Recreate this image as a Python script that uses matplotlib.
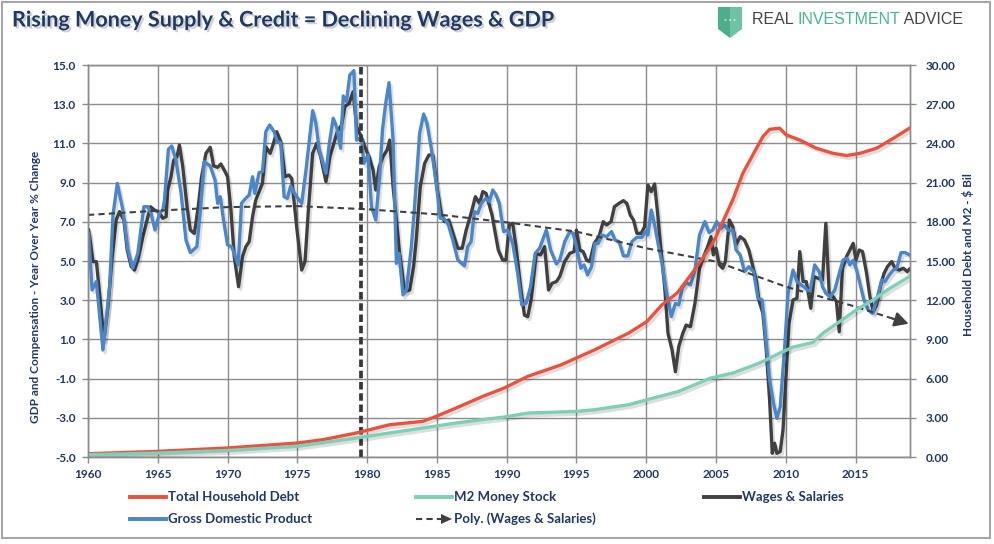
import matplotlib
matplotlib.use("Agg")
import matplotlib.pyplot as plt
import matplotlib.patheffects as pe
from matplotlib.patches import Polygon, Rectangle, Circle
from matplotlib.lines import Line2D

# ---- data ----
year_ticks = [1960, 1965, 1970, 1975, 1980, 1985, 1990, 1995, 2000, 2005, 2010, 2015]
left_ticks = [-5, -3, -1, 1, 3, 5, 7, 9, 11, 13, 15]
right_ticks = [0, 3, 6, 9, 12, 15, 18, 21, 24, 27, 30]

wages_x = [
    1960.05, 1960.36, 1960.6, 1960.83, 1961.14, 1961.43, 1961.71, 1962.02, 1962.26, 1962.57, 1962.81,
    1963.1, 1963.33, 1963.57, 1963.93, 1964.24, 1964.48, 1964.76, 1965.05, 1965.36, 1965.6, 1965.71,
    1965.95, 1966.14, 1966.38, 1966.55, 1966.79, 1967.1, 1967.33, 1967.62, 1967.9, 1968.14, 1968.45,
    1968.76, 1969.0, 1969.29, 1969.52, 1969.76, 1970.0, 1970.24, 1970.48, 1970.79, 1971.07, 1971.31,
    1971.55, 1971.79, 1972.02, 1972.26, 1972.5, 1972.74, 1973.05, 1973.29, 1973.52, 1973.81, 1974.12,
    1974.4, 1974.6, 1974.95, 1975.31, 1975.55, 1975.79, 1976.1, 1976.38, 1976.67, 1977.05, 1977.33,
    1977.62, 1977.86, 1978.17, 1978.4, 1978.71, 1979.0, 1979.24, 1979.52, 1979.83, 1980.14, 1980.43,
    1980.62, 1980.86, 1981.14, 1981.43, 1981.62, 1981.86, 1982.1, 1982.33, 1982.69, 1983.05, 1983.33,
    1983.52, 1983.81, 1984.12, 1984.43, 1984.71, 1985.0, 1985.31, 1985.55, 1985.86, 1986.19, 1986.5,
    1986.81, 1987.1, 1987.45, 1987.76, 1988.05, 1988.29, 1988.52, 1988.95, 1989.4, 1989.71, 1989.95,
    1990.19, 1990.43, 1990.67, 1990.99, 1991.27, 1991.51, 1991.75, 1992.12, 1992.43, 1992.72, 1993.0,
    1993.25, 1993.56, 1993.8, 1994.16, 1994.52, 1994.83, 1995.0, 1995.24, 1995.48, 1995.72, 1995.96,
    1996.27, 1996.61, 1996.92, 1997.16, 1997.48, 1997.72, 1998.05, 1998.37, 1998.61, 1998.85, 1999.09,
    1999.33, 1999.64, 1999.88, 2000.12, 2000.36, 2000.6, 2000.84, 2001.08, 2001.32, 2001.56, 2001.85,
    2002.09, 2002.33, 2002.62, 2002.86, 2003.17, 2003.49, 2003.65, 2003.82, 2004.16, 2004.4, 2004.64,
    2004.81, 2005.0, 2005.24, 2005.48, 2005.67, 2005.96, 2006.2, 2006.44, 2006.73, 2007.04, 2007.35,
    2007.64, 2007.88, 2008.07, 2008.36, 2008.6, 2008.84, 2009.03, 2009.2, 2009.36, 2009.6, 2009.8,
    2009.99, 2010.23, 2010.52, 2010.8, 2011.0, 2011.24, 2011.47, 2011.79, 2012.03, 2012.31, 2012.63,
    2012.87, 2013.11, 2013.39, 2013.63, 2013.83, 2014.06, 2014.35, 2014.59, 2014.83, 2015.02, 2015.26,
    2015.5, 2015.79, 2016.03, 2016.27, 2016.51, 2016.8, 2017.04, 2017.28, 2017.59, 2017.83, 2018.14,
    2018.42, 2018.71, 2018.86]
wages_y = [
    6.58, 4.97, 4.97, 3.35, 0.97, 2.67, 5.05, 7.09, 7.52, 7.09, 5.56,
    4.71, 4.54, 5.05, 6.24, 7.09, 7.77, 7.6, 7.52, 7.18, 7.26, 8.62,
    9.3, 10.15, 10.32, 10.92, 9.81, 7.77, 6.58, 6.41, 7.77, 9.3, 10.49,
    10.8, 9.85, 9.78, 9.95, 9.64, 9.3, 7.6, 5.22, 3.69, 5.22, 5.73,
    5.99, 7.26, 8.11, 8.54, 8.96, 10.83, 10.49, 11.0, 11.6, 11.09, 9.3,
    9.39, 9.2, 6.75, 4.54, 4.97, 7.6, 10.49, 11.0, 10.32, 9.05, 10.32,
    11.0, 11.6, 11.94, 12.87, 13.04, 13.64, 11.85, 11.43, 10.83, 10.32, 9.64,
    8.62, 9.81, 10.32, 10.66, 11.17, 8.79, 7.09, 5.39, 3.44, 3.52, 4.71,
    6.07, 8.79, 9.98, 10.41, 10.41, 8.79, 7.43, 7.01, 7.09, 6.33, 5.65,
    5.65, 6.58, 7.43, 8.28, 7.94, 8.54, 8.45, 7.35, 5.56, 5.05, 5.05,
    6.84, 6.92, 5.73, 3.69, 2.24, 2.16, 3.01, 5.39, 5.31, 5.73, 3.52,
    3.86, 3.95, 4.2, 4.97, 5.39, 5.48, 6.58, 5.56, 5.48, 5.05, 4.97,
    5.9, 6.24, 7.01, 6.84, 7.01, 7.77, 7.94, 8.08, 7.94, 7.35, 7.09,
    6.41, 6.41, 6.75, 8.88, 8.54, 8.93, 7.26, 5.39, 3.69, 1.31, 0.46,
    -0.65, 0.63, 1.31, 1.73, 1.65, 2.84, 3.69, 4.63, 5.31, 5.73, 6.24,
    5.31, 5.65, 4.8, 4.63, 4.97, 7.09, 6.75, 5.82, 6.24, 6.07, 5.56,
    4.71, 4.03, 3.01, 2.33, 0.46, -2.09, -4.81, -4.3, -4.81, -4.72, -3.62,
    -1.24, 1.82, 3.01, 3.1, 5.48, 3.95, 3.95, 2.59, 4.2, 4.12, 4.03,
    6.92, 3.35, 3.18, 2.93, 1.39, 4.63, 5.22, 5.56, 5.9, 5.05, 5.56,
    5.48, 4.37, 3.18, 2.41, 2.76, 3.78, 4.37, 4.71, 4.97, 4.63, 4.54,
    4.63, 4.46, 4.58]

gdp_x = [
    1960.05, 1960.29, 1960.6, 1961.07, 1961.55, 1961.79, 1962.1, 1962.5, 1962.86, 1963.2, 1963.57,
    1964.0, 1964.29, 1964.52, 1964.8, 1965.12, 1965.36, 1965.48, 1965.76, 1966.0, 1966.3, 1966.67,
    1967.02, 1967.33, 1967.8, 1968.05, 1968.33, 1968.76, 1969.1, 1969.29, 1969.48, 1969.71, 1970.0,
    1970.29, 1970.52, 1970.76, 1971.0, 1971.24, 1971.55, 1971.79, 1971.95, 1972.26, 1972.5, 1972.74,
    1973.02, 1973.33, 1973.57, 1973.81, 1974.05, 1974.29, 1974.52, 1974.83, 1975.31, 1975.62, 1976.1,
    1976.33, 1976.57, 1977.05, 1977.29, 1977.57, 1977.81, 1978.1, 1978.29, 1978.52, 1978.76, 1979.05,
    1979.24, 1979.6, 1979.76, 1980.07, 1980.31, 1980.62, 1980.9, 1981.1, 1981.33, 1981.57, 1981.86,
    1982.1, 1982.29, 1982.57, 1982.81, 1983.17, 1983.4, 1983.76, 1984.05, 1984.29, 1984.6, 1984.95,
    1985.24, 1985.48, 1985.79, 1986.14, 1986.5, 1986.98, 1987.21, 1987.45, 1987.69, 1987.93, 1988.17,
    1988.52, 1988.76, 1989.0, 1989.24, 1989.47, 1989.78, 1990.07, 1990.43, 1990.79, 1991.08, 1991.39,
    1991.71, 1992.04, 1992.36, 1992.84, 1993.15, 1993.56, 1993.8, 1994.16, 1994.52, 1994.76, 1995.0,
    1995.31, 1995.55, 1995.79, 1996.08, 1996.32, 1996.56, 1996.8, 1997.16, 1997.52, 1997.76, 1998.05,
    1998.37, 1998.68, 1998.97, 1999.33, 1999.69, 1999.93, 2000.12, 2000.36, 2000.6, 2000.89, 2001.13,
    2001.42, 2001.8, 2002.09, 2002.33, 2002.57, 2002.86, 2003.17, 2003.49, 2003.82, 2004.2, 2004.5,
    2004.76, 2005.05, 2005.36, 2005.6, 2005.91, 2006.2, 2006.44, 2006.73, 2007.04, 2007.35, 2007.69,
    2008.0, 2008.31, 2008.6, 2008.84, 2009.12, 2009.36, 2009.6, 2009.92, 2010.16, 2010.52, 2010.8,
    2011.12, 2011.43, 2011.71, 2012.07, 2012.39, 2012.63, 2012.87, 2013.2, 2013.51, 2013.83, 2014.11,
    2014.4, 2014.59, 2014.83, 2015.07, 2015.31, 2015.6, 2015.91, 2016.22, 2016.51, 2016.87, 2017.11,
    2017.42, 2017.71, 2017.95, 2018.26, 2018.55, 2018.86]
gdp_y = [
    6.41, 3.52, 3.95, 0.46, 3.69, 7.35, 8.96, 7.6, 5.56, 4.63, 5.39,
    7.77, 7.77, 7.43, 6.58, 7.43, 7.6, 8.1, 10.7, 10.87, 10.15, 8.45,
    6.07, 5.43, 5.73, 7.6, 10.07, 9.85, 9.13, 7.94, 8.28, 7.09, 5.82,
    5.73, 5.31, 4.8, 7.94, 8.15, 8.37, 9.3, 8.45, 9.51, 9.56, 11.6,
    11.94, 11.6, 11.09, 11.04, 8.28, 8.2, 8.83, 8.4, 7.94, 9.64, 12.67,
    12.02, 10.66, 9.47, 11.0, 12.28, 11.85, 10.75, 13.42, 13.13, 14.49, 14.71,
    11.17, 11.3, 9.98, 10.41, 7.77, 7.09, 9.39, 11.68, 13.04, 14.1, 11.17,
    4.88, 5.39, 3.27, 3.52, 5.73, 7.77, 11.51, 12.5, 12.02, 10.75, 8.96,
    7.18, 7.18, 6.92, 6.07, 5.05, 4.75, 5.73, 5.99, 7.52, 7.43, 7.94,
    8.2, 8.03, 8.62, 8.37, 7.94, 6.5, 6.58, 5.9, 4.37, 2.76, 2.84,
    3.69, 5.39, 5.65, 6.58, 5.56, 4.85, 5.05, 5.99, 6.5, 6.41, 5.73,
    4.63, 4.8, 4.29, 4.71, 5.9, 5.9, 6.33, 6.24, 6.5, 6.07, 5.99,
    5.26, 5.26, 5.99, 6.21, 6.21, 6.5, 6.33, 7.6, 6.84, 5.73, 4.88,
    3.52, 2.16, 2.84, 2.76, 3.61, 3.9, 3.78, 4.54, 6.33, 7.01, 6.45,
    6.58, 7.01, 6.67, 6.84, 6.55, 6.58, 5.56, 5.31, 4.46, 4.71, 4.46,
    3.1, 3.01, 0.8, -1.07, -2.26, -3.03, -2.43, 0.63, 3.35, 4.54, 3.95,
    3.78, 3.61, 3.35, 4.8, 4.46, 3.69, 3.35, 3.18, 3.52, 4.37, 5.05,
    5.14, 4.8, 5.05, 4.54, 3.86, 3.01, 2.5, 2.33, 3.01, 4.03, 3.95,
    4.29, 4.54, 4.63, 5.43, 5.43, 5.31]

debt_x = [1960, 1965, 1970, 1975, 1976.86, 1979.24, 1981.62, 1984.0, 1984.95, 1986.38,
          1988.29, 1989.83, 1991.51, 1993.92, 1996.32, 1998.73, 2000.05, 2001.13, 2002.21,
          2003.29, 2004.62, 2005.0, 2006.2, 2006.92, 2007.64, 2008.36, 2008.84, 2009.56,
          2010.04, 2011.0, 2012.19, 2013.39, 2014.35, 2015.31, 2016.51, 2017.71, 2018.86]
debt_y = [0.25, 0.43, 0.69, 1.07, 1.33, 1.84, 2.47, 2.73, 3.11, 3.75,
          4.64, 5.28, 6.17, 7.06, 8.21, 9.48, 10.37, 11.65, 12.54,
          14.07, 16.11, 16.87, 19.68, 21.71, 23.12, 24.52, 25.08, 25.16,
          24.65, 24.26, 23.63, 23.24, 23.07, 23.24, 23.63, 24.39, 25.16]

m2_x = [1960, 1965, 1970, 1975, 1979.24, 1981.62, 1984.0, 1986.38, 1987.81, 1989.83,
        1991.51, 1995.0, 1996.32, 1998.73, 2000.05, 2002.33, 2004.62, 2006.2, 2008.12,
        2009.56, 2010.52, 2011.95, 2012.67, 2013.87, 2015.07, 2016.27, 2017.47, 2018.86]
m2_y = [0.18, 0.3, 0.5, 0.82, 1.45, 1.84, 2.22, 2.6, 2.8, 3.06,
        3.36, 3.49, 3.62, 4.0, 4.38, 5.02, 6.04, 6.42, 7.19,
        7.95, 8.41, 8.77, 9.48, 10.37, 11.27, 12.03, 12.92, 13.81]

trend_x = [1960, 1965, 1970, 1975, 1980, 1985, 1990, 1995, 2000, 2005, 2010, 2015, 2018.8]
trend_y = [7.35, 7.57, 7.75, 7.8, 7.64, 7.38, 6.97, 6.5, 5.65, 4.97, 3.69, 2.67, 1.8]

marker_year = 1979.55

# ---- styling ----
NAVY = "#1F3864"
RED = "#E8533F"
TEAL = "#7DCFB6"
DARK = "#404040"
BLUE = "#4A86C8"
GRID = "#8C8C8C"

plt.rcParams["font.family"] = ["Lato", "DejaVu Sans"]

W, H = 994, 544
fig = plt.figure(figsize=(W / 100, H / 100), dpi=100)
ax = fig.add_axes([88 / W, 1 - 457 / H, (910 - 88) / W, (457 - 65) / H])
ax2 = ax.twinx()

shadow = [pe.SimpleLineShadow(offset=(1.5, -2), shadow_color="black", alpha=0.13), pe.Normal()]

ax.plot(wages_x, wages_y, color=DARK, lw=2.4, zorder=3, path_effects=shadow)
ax.plot(gdp_x, gdp_y, color=BLUE, lw=2.4, zorder=4, path_effects=shadow)

# polynomial trend: dashed line ending in a solid arrow head
ax.plot(trend_x[:-1] + [trend_x[-2] + 0.8 * (trend_x[-1] - trend_x[-2])],
        trend_y[:-1] + [trend_y[-2] + 0.8 * (trend_y[-1] - trend_y[-2])],
        color=DARK, lw=1.5, ls=(0, (3, 2)), zorder=5)
hx = trend_x[-2] + 0.7 * (trend_x[-1] - trend_x[-2])
hy = trend_y[-2] + 0.7 * (trend_y[-1] - trend_y[-2])
ax.annotate("", xy=(trend_x[-1], trend_y[-1]), xytext=(hx, hy),
            arrowprops=dict(arrowstyle="-|>,head_length=0.85,head_width=0.45", color=DARK,
                            lw=1.5, mutation_scale=10, shrinkA=0, shrinkB=0),
            zorder=5, annotation_clip=False)
ax.axvline(marker_year, color="#383838", lw=2.7, ls=(0, (2.0, 1.0)), zorder=6)

ax2.plot(debt_x, debt_y, color=RED, lw=2.4, path_effects=shadow)
ax2.plot(m2_x, m2_y, color=TEAL, lw=2.4, path_effects=shadow)

ax.set_xlim(1960, 2018.9)
ax.set_ylim(-5, 15)
ax2.set_ylim(0, 30)

ax.set_xticks(year_ticks, labels=[str(y) for y in year_ticks], fontweight="bold")
ax.set_yticks(left_ticks, labels=["%.1f" % v for v in left_ticks], fontweight="bold")
ax2.set_yticks(right_ticks, labels=["%.2f" % v for v in right_ticks], fontweight="bold")

ax.grid(True, color=GRID, lw=1.0)
ax.set_axisbelow(True)
for a in (ax, ax2):
    for s in a.spines.values():
        s.set_color(GRID)
        s.set_linewidth(1.0)
ax.tick_params(axis="both", colors=GRID, labelcolor=NAVY, labelsize=8.5, length=4, width=1)
ax.tick_params(axis="y", pad=5)
ax.tick_params(axis="x", pad=5)
ax2.tick_params(axis="y", colors=GRID, labelcolor=NAVY, labelsize=8.5, length=4, width=1, pad=7)

fig.text(36 / W, 1 - 287 / H, "GDP and Compensation - Year Over Year % Change", rotation=90,
         ha="center", va="center", color=NAVY, fontsize=8.5, fontweight="bold")
fig.text(968 / W, 1 - 255 / H, "Household Debt and M2 - $ Bil", rotation=90,
         ha="center", va="center", color=NAVY, fontsize=8.5, fontweight="bold")

# title
fig.text(12 / W, 1 - 20 / H, "Rising Money Supply & Credit = Declining Wages & GDP",
         ha="left", va="center", color=NAVY, fontsize=15.5, fontweight="bold",
         path_effects=[pe.SimplePatchShadow(offset=(1.5, -1.5), alpha=0.2), pe.Normal()])

# logo
def fpx(x, y):
    return (x / W, 1 - y / H)

fig.add_artist(Polygon([fpx(718, 7), fpx(730, 7), fpx(730, 38), fpx(718, 29)],
                       closed=True, transform=fig.transFigure, fc="#4EAD8A", ec="none"))
fig.add_artist(Polygon([fpx(730, 7), fpx(742, 7), fpx(742, 29), fpx(730, 38)],
                       closed=True, transform=fig.transFigure, fc="#6DC3A2", ec="none"))
for dx in (725.5, 730, 734.5):
    fig.add_artist(Circle(fpx(dx, 20), 1.1 / W, transform=fig.transFigure, fc="white", ec="none"))
logo_font = ["Liberation Sans", "DejaVu Sans"]
t1 = fig.text(752 / W, 1 - 19 / H, "REAL ", ha="left", va="center", color="#454545",
              fontsize=11.5, family=logo_font)
t2 = fig.text(0, 0, "INVESTMENT", va="center", color="#4DB38E", fontsize=11.5, family=logo_font)
t3 = fig.text(0, 0, " ADVICE", va="center", color="#454545", fontsize=11.5, family=logo_font)
fig.canvas.draw()
r = fig.canvas.get_renderer()
t2.set_position((t1.get_window_extent(r).x1 / W, 1 - 19 / H))
t3.set_position((t2.get_window_extent(r).x1 / W, 1 - 19 / H))

# legend
legend_items = [
    (RED, "Total Household Debt", 130, 497),
    (TEAL, "M2 Money Stock", 416, 497),
    (DARK, "Wages & Salaries", 704, 497),
    (BLUE, "Gross Domestic Product", 130, 519),
]
for color, label, x0, y0 in legend_items:
    fig.add_artist(Line2D([x0 / W, (x0 + 36) / W], [1 - y0 / H] * 2, color=color, lw=2.8,
                          transform=fig.transFigure))
    fig.text((x0 + 38) / W, 1 - y0 / H, label, ha="left", va="center", color=NAVY,
             fontsize=9.5, fontweight="bold")
fig.add_artist(Line2D([416 / W, 442 / W], [1 - 519 / H] * 2, color=DARK, lw=1.5,
                      ls=(0, (3, 2)), transform=fig.transFigure))
fig.add_artist(Polygon([fpx(441, 514), fpx(452, 519), fpx(441, 524)], closed=True,
                       transform=fig.transFigure, fc=DARK, ec="none"))
fig.text(454 / W, 1 - 519 / H, "Poly. (Wages & Salaries)", ha="left", va="center",
         color=NAVY, fontsize=9.5, fontweight="bold")

# outer border
fig.add_artist(Rectangle((2 / W, 1 - 538 / H), 988 / W, 536 / H, transform=fig.transFigure,
                         fill=False, ec="#A6A6A6", lw=1.5))

fig.savefig("out.png", dpi=100)
